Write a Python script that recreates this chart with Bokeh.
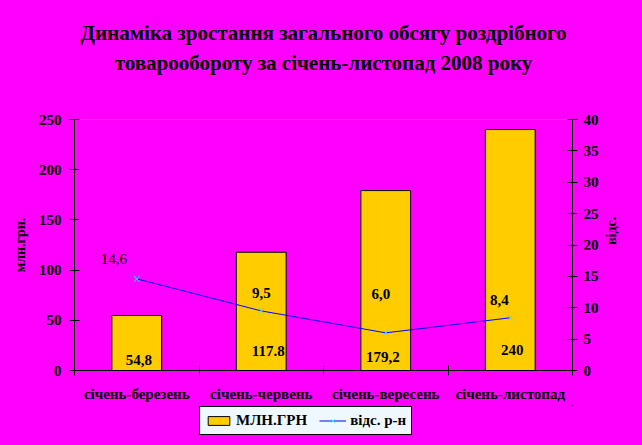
import math
from bokeh.plotting import figure
from bokeh.layouts import column
from bokeh.models import (ColumnDataSource, Range1d, LinearAxis, FixedTicker,
                          Legend, LegendItem, GlobalInlineStyleSheet, Title)
from bokeh.core.properties import value
from bokeh.embed import file_html
from bokeh.resources import INLINE

# ---- data ----
title_lines = ["Динаміка зростання загального обсягу роздрібного",
               "товарообороту за січень-листопад 2008 року"]
categories = ["січень-березень", "січень-червень", "січень-вересень", "січень-листопад"]
volume = [54.8, 117.8, 179.2, 240.0]          # млн.грн.
volume_labels = ["54,8", "117.8", "179,2", "240"]
growth = [14.6, 9.5, 6.0, 8.4]                # відс.
growth_labels = ["14,6", "9,5", "6,0", "8,4"]
left_ticks = [0, 50, 100, 150, 200, 250]
right_ticks = [0, 5, 10, 15, 20, 25, 30, 35, 40]
series_names = ["МЛН.ГРН", "відс. р-н"]

# ---- label placement tweaks (pixels) ----
vol_dx = [2, 7, -3, 2]
vol_dy = [-11, -20, -14, -21]
gr_dx = [-23, 0, -5, -11]
gr_dy = [-20, -18, -39, -18]
gr_style = ["normal", "bold", "bold", "bold"]

FONT = "Liberation Serif"
MAGENTA = "#FF00FF"
BAR_COLOR = "#FFCC00"
LINE_COLOR = "#0000FF"
MARK_COLOR = "#00FFFF"

xpos = [i + 0.5 for i in range(len(categories))]

src = ColumnDataSource(dict(x=xpos, vol=volume, vlab=volume_labels, vdx=vol_dx, vdy=vol_dy,
                            gr=growth, glab=growth_labels, gdx=gr_dx, gdy=gr_dy, gst=gr_style))

p = figure(width=642, height=405, x_range=Range1d(0, 4), y_range=Range1d(0, 250),
           output_backend="svg", toolbar_location=None,
           min_border_left=74, min_border_right=70, min_border_top=119, min_border_bottom=35,
           background_fill_color=MAGENTA, border_fill_color=MAGENTA,
           outline_line_color="#808080", outline_line_width=1,
           title=title_lines[0])
p.extra_y_ranges = {"pct": Range1d(0, 40)}
p.stylesheets = [GlobalInlineStyleSheet(css="html, body { background-color: #FF00FF; }")]


def style_title(t, standoff, size="21px"):
    t.align = "center"
    t.text_font = FONT
    t.text_font_size = size
    t.text_font_style = "bold"
    t.text_color = "black"
    t.standoff = standoff


style_title(p.title, 4)
spacer = Title(text=" ")
style_title(spacer, 30, "10px")
p.add_layout(spacer, "above")
t2 = Title(text=title_lines[1])
style_title(t2, 4)
p.add_layout(t2, "above")

p.xgrid.visible = False
p.ygrid.visible = False

# x axis: labels at centers, boundary ticks as minor ticks
xa = p.xaxis[0]
xa.ticker = FixedTicker(ticks=xpos, minor_ticks=[0, 1, 2, 3, 4])
xa.major_label_overrides = {xv: c for xv, c in zip(xpos, categories)}
xa.major_tick_line_color = None
xa.major_tick_in = 0
xa.major_tick_out = 0
xa.minor_tick_in = 5
xa.minor_tick_out = 5
xa.minor_tick_line_color = "black"
xa.axis_line_color = "black"
xa.major_label_standoff = 10
xa.major_label_text_font = FONT
xa.major_label_text_font_size = "15px"
xa.major_label_text_font_style = "bold"
xa.major_label_text_color = "black"

# left axis
ya = p.yaxis[0]
ya.ticker = FixedTicker(ticks=left_ticks)
ya.major_tick_in = 5
ya.major_tick_out = 5
ya.major_tick_line_color = "black"
ya.minor_tick_line_color = None
ya.axis_line_color = "black"
ya.major_label_standoff = 8
ya.major_label_text_font = FONT
ya.major_label_text_font_size = "15px"
ya.major_label_text_font_style = "bold"
ya.major_label_text_color = "black"
ya.axis_label = "млн.грн."
ya.axis_label_text_font = FONT
ya.axis_label_text_font_size = "14px"
ya.axis_label_text_font_style = "bold"
ya.axis_label_text_color = "black"
ya.axis_label_standoff = 8

# right axis
ra = LinearAxis(y_range_name="pct", ticker=FixedTicker(ticks=right_ticks))
ra.major_tick_in = 5
ra.major_tick_out = 5
ra.major_tick_line_color = "black"
ra.minor_tick_line_color = None
ra.axis_line_color = "black"
ra.major_label_standoff = 6
ra.major_label_text_font = FONT
ra.major_label_text_font_size = "15px"
ra.major_label_text_font_style = "bold"
ra.major_label_text_color = "black"
ra.axis_label = "відс."
ra.axis_label_orientation = math.pi / 2
ra.axis_label_text_align = "center"
ra.axis_label_text_font = FONT
ra.axis_label_text_font_size = "14px"
ra.axis_label_text_font_style = "bold"
ra.axis_label_text_color = "black"
ra.axis_label_standoff = 10
p.add_layout(ra, "right")

p.vbar(x="x", top="vol", width=0.4, source=src,
       fill_color=BAR_COLOR, line_color="black", line_width=1)
p.line(x="x", y="gr", source=src, y_range_name="pct",
       line_color=LINE_COLOR, line_width=1)
p.scatter(x="x", y="gr", source=src, y_range_name="pct",
          marker="x", size=8, line_color=MARK_COLOR, line_width=1)

p.text(x="x", y=0, text="vlab", x_offset="vdx", y_offset="vdy", source=src,
       text_align="center", text_baseline="middle", text_font=value(FONT),
       text_font_size="15px", text_font_style="bold", text_color="black")
p.text(x="x", y="gr", text="glab", x_offset="gdx", y_offset="gdy", source=src,
       y_range_name="pct", text_align="center", text_baseline="middle",
       text_font=value(FONT), text_font_size="15px", text_font_style="gst",
       text_color="black")

# ---- legend strip (separate figure below; its series are out of view) ----
lf = figure(width=642, height=40, x_range=Range1d(-3, -2), y_range=Range1d(-3, -2),
            output_backend="svg", toolbar_location=None,
            x_axis_type=None, y_axis_type=None, min_border=0,
            background_fill_color=MAGENTA, border_fill_color=MAGENTA,
            outline_line_color=None)
lf.xgrid.visible = False
lf.ygrid.visible = False
lb = lf.vbar(x="x", top="vol", width=0.4, source=src,
             fill_color=BAR_COLOR, line_color="black", line_width=1)
ll = lf.line(x="x", y="gr", source=src, line_color=LINE_COLOR, line_width=1)
lm = lf.scatter(x="x", y="gr", source=src, marker="x", size=8,
                line_color=MARK_COLOR, line_width=1)

legend = Legend(items=[LegendItem(label=series_names[0], renderers=[lb]),
                       LegendItem(label=series_names[1], renderers=[ll, lm])],
                orientation="horizontal", location=(125, 10))
legend.background_fill_color = "#F0F8FF"
legend.background_fill_alpha = 1
legend.border_line_color = "black"
legend.border_line_width = 1
legend.border_line_alpha = 1
legend.glyph_width = 27
legend.glyph_height = 11
legend.label_standoff = 4
legend.spacing = 12
legend.padding = 5
legend.margin = 0
legend.label_text_font = FONT
legend.label_text_font_size = "15px"
legend.label_text_font_style = "bold"
legend.label_text_color = "black"
lf.add_layout(legend)

layout = column(p, lf, spacing=0)
open("out.html", "w").write(file_html(layout, INLINE))
